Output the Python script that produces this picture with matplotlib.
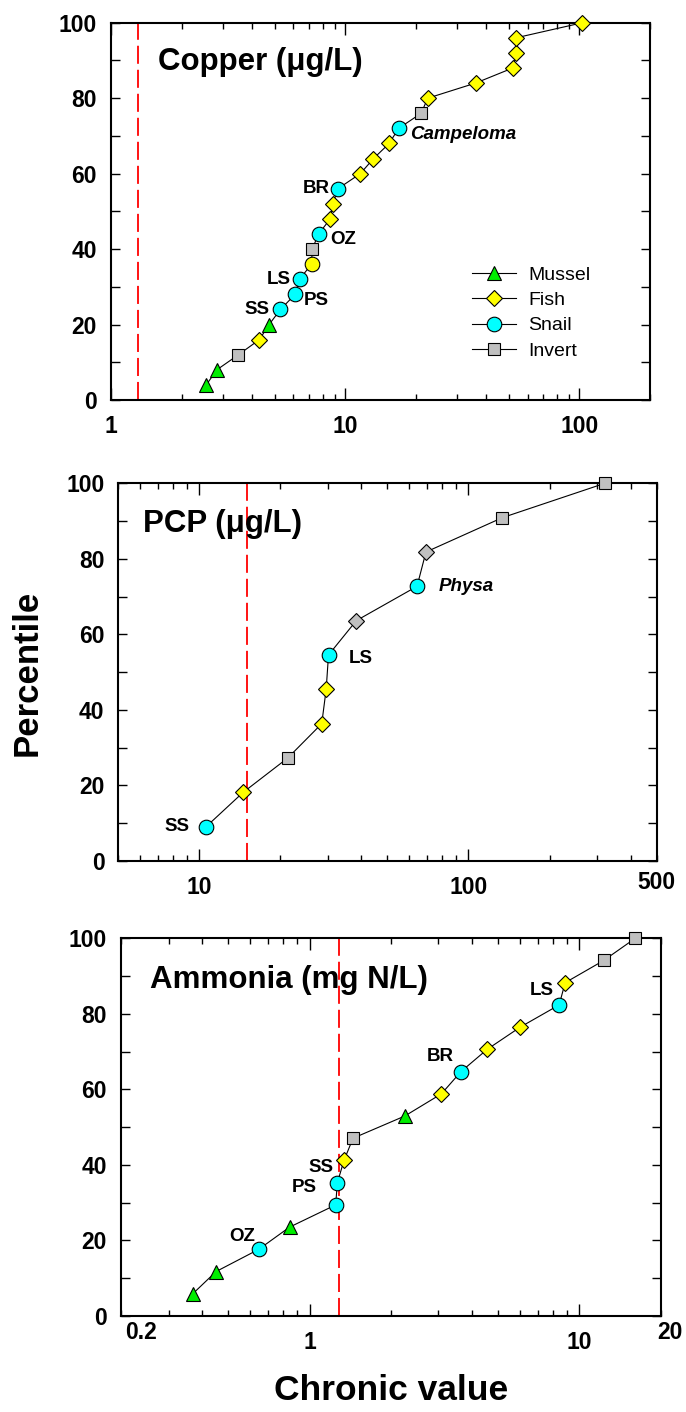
import matplotlib
matplotlib.use("Agg")
import numpy as np
import matplotlib.pyplot as plt
from matplotlib.lines import Line2D
from matplotlib.ticker import LogLocator, NullFormatter, MultipleLocator

plt.rcParams['font.family'] = ['Liberation Sans', 'DejaVu Sans']
plt.rcParams['font.weight'] = 'bold'

# Copper (ug/L)
cu_value = [2.55, 2.83, 3.50, 4.30, 4.73, 5.29, 6.11, 6.38, 7.18, 7.23, 7.69, 8.63, 8.86,
            9.30, 11.6, 13.2, 15.4, 16.9, 21.1, 22.5, 36.0, 51.9, 53.6, 53.6, 103]
cu_pct = [4, 8, 12, 16, 20, 24, 28, 32, 36, 40, 44, 48, 52, 56, 60, 64, 68, 72, 76, 80,
          84, 88, 92, 96, 100]
cu_group = ['M', 'M', 'I', 'F', 'M', 'S', 'S', 'S', 'Fo', 'I', 'S', 'F', 'F', 'S', 'F', 'F',
            'F', 'S', 'I', 'F', 'F', 'F', 'F', 'F', 'F']
cu_crit = 1.3
cu_labels = [(13, 'BR', -8, 0, 'right', False), (10, 'OZ', 12, -5, 'left', False),
             (7, 'LS', -9, 0, 'right', False), (6, 'PS', 9, -6, 'left', False),
             (5, 'SS', -11, 0, 'right', False), (17, 'Campeloma', 11, -6, 'left', True)]

# PCP (ug/L)
pcp_value = [10.6, 14.55, 21.3, 28.5, 29.6, 30.2, 38.3, 64.4, 69.5, 133.6, 320.8]
pcp_pct = [9.09, 18.18, 27.27, 36.36, 45.45, 54.55, 63.64, 72.73, 81.82, 90.91, 100]
pcp_group = ['S', 'F', 'I', 'F', 'F', 'S', 'ID', 'S', 'ID', 'I', 'I']
pcp_crit = 15
pcp_labels = [(0, 'SS', -17, 0, 'right', False), (5, 'LS', 20, -4, 'left', False),
              (7, 'Physa', 22, 0, 'left', True)]

# Ammonia (mg N/L)
nh3_value = [0.369, 0.450, 0.648, 0.843, 1.249, 1.267, 1.341, 1.448, 2.253, 3.08, 3.64,
             4.55, 6.03, 8.41, 8.85, 12.3, 16.1]
nh3_pct = [5.88, 11.76, 17.65, 23.53, 29.41, 35.29, 41.18, 47.06, 52.94, 58.82, 64.71,
           70.59, 76.47, 82.35, 88.24, 94.12, 100]
nh3_group = ['M', 'M', 'S', 'M', 'S', 'S', 'F', 'I', 'M', 'F', 'S', 'F', 'F', 'S', 'F', 'I', 'I']
nh3_crit = 1.29
nh3_labels = [(2, 'OZ', -4, 13, 'right', False), (5, 'SS', -4, 15, 'right', False),
              (4, 'PS', -19, 17, 'right', False), (10, 'BR', -7, 15, 'right', False),
              (13, 'LS', -5, 14, 'right', False)]

styles = {
    'M': ('^', '#00ee00', 10),
    'F': ('D', '#ffff00', 8),
    'S': ('o', '#00ffff', 10.5),
    'I': ('s', '#c0c0c0', 8.5),
    'Fo': ('o', '#ffff00', 10.5),
    'ID': ('D', '#c0c0c0', 8),
}
legend_names = [('Mussel', 'M'), ('Fish', 'F'), ('Snail', 'S'), ('Invert', 'I')]


def panel(ax, values, pct, groups, crit, xlim, ticks, title, tpos, labels):
    ax.set_xscale('log')
    ax.set_xlim(*xlim)
    ax.set_ylim(0, 100)
    ax.axvline(crit, color='red', lw=1.3, ls=(0, (10, 3.3)), zorder=1)
    ax.plot(values, pct, '-', color='black', lw=0.8, zorder=2, clip_on=False)
    for v, p, g in zip(values, pct, groups):
        m, c, s = styles[g]
        ax.plot(v, p, marker=m, ms=s, mfc=c, mec='black', mew=0.8, ls='none',
                zorder=3, clip_on=False)
    for i, txt, dx, dy, ha, it in labels:
        ax.annotate(txt, xy=(values[i], pct[i]), xytext=(dx, dy), textcoords='offset pixels',
                    ha=ha, va='center', fontsize=13.5, fontweight='bold',
                    fontstyle='italic' if it else 'normal')
    ax.text(tpos[0], tpos[1], title, transform=ax.transAxes, fontsize=22.5,
            fontweight='bold', ha='left', va='baseline')

    ax.set_xticks(ticks)
    ax.set_xticklabels([('%g' % t) for t in ticks])
    ax.xaxis.set_minor_locator(LogLocator(base=10, subs=np.arange(2, 10), numticks=50))
    ax.xaxis.set_minor_formatter(NullFormatter())
    ax.set_yticks([0, 20, 40, 60, 80, 100])
    ax.yaxis.set_minor_locator(MultipleLocator(10))
    ax.tick_params(which='both', direction='in', top=True, right=True, width=1)
    ax.tick_params(axis='x', which='major', length=8.5, pad=11, labelsize=16.5)
    ax.tick_params(axis='x', which='minor', length=4.5)
    ax.tick_params(axis='y', which='both', length=6.5, pad=10, labelsize=16.5)
    for sp in ax.spines.values():
        sp.set_linewidth(1.5)


def edge_label(ax, x, txt, dx, dy, ha):
    ax.annotate(txt, xy=(x, 0), xycoords=('data', 'axes fraction'), xytext=(dx, dy),
                textcoords='offset pixels', ha=ha, va='top', fontsize=16.5, fontweight='bold')


fig = plt.figure(figsize=(6.86, 14.12), dpi=100)

ax1 = fig.add_axes([0.1618, 0.7167, 0.7857, 0.2672])
panel(ax1, cu_value, cu_pct, cu_group, cu_crit, (1, 200), [1, 10, 100],
      'Copper (\u03bcg/L)', (0.087, 0.875), cu_labels)
handles = []
for name, g in legend_names:
    m, c, s = styles[g]
    handles.append(Line2D([], [], color='black', lw=0.8, marker=m, ms=s, mfc=c,
                          mec='black', mew=0.8))
ax1.legend(handles, [n for n, g in legend_names], loc='upper left',
           bbox_to_anchor=(0.669, 0.355), frameon=False, borderpad=0, borderaxespad=0,
           handlelength=2.28, handletextpad=0.63, labelspacing=0.4,
           prop={'weight': 'normal', 'size': 14})

ax2 = fig.add_axes([0.1724, 0.3902, 0.7848, 0.2675])
panel(ax2, pcp_value, pcp_pct, pcp_group, pcp_crit, (5, 500), [10, 100],
      'PCP (\u03bcg/L)', (0.046, 0.872), pcp_labels)
edge_label(ax2, 500, '500', 0, -10, 'center')

ax3 = fig.add_axes([0.1764, 0.0680, 0.7867, 0.2675])
panel(ax3, nh3_value, nh3_pct, nh3_group, nh3_crit, (0.2, 20), [1, 10],
      'Ammonia (mg N/L)', (0.054, 0.868), nh3_labels)
edge_label(ax3, 0.2, '0.2', 4, -5, 'left')
edge_label(ax3, 20, '20', -3, -5, 'left')

fig.text(27.5 / 686, 1 - 673 / 1412, 'Percentile', rotation=90, fontsize=25,
         fontweight='bold', ha='center', va='center')
fig.text(391 / 686, 1 - 1390 / 1412, 'Chronic value', fontsize=25.5,
         fontweight='bold', ha='center', va='center')

fig.savefig('out.png', dpi=100)
